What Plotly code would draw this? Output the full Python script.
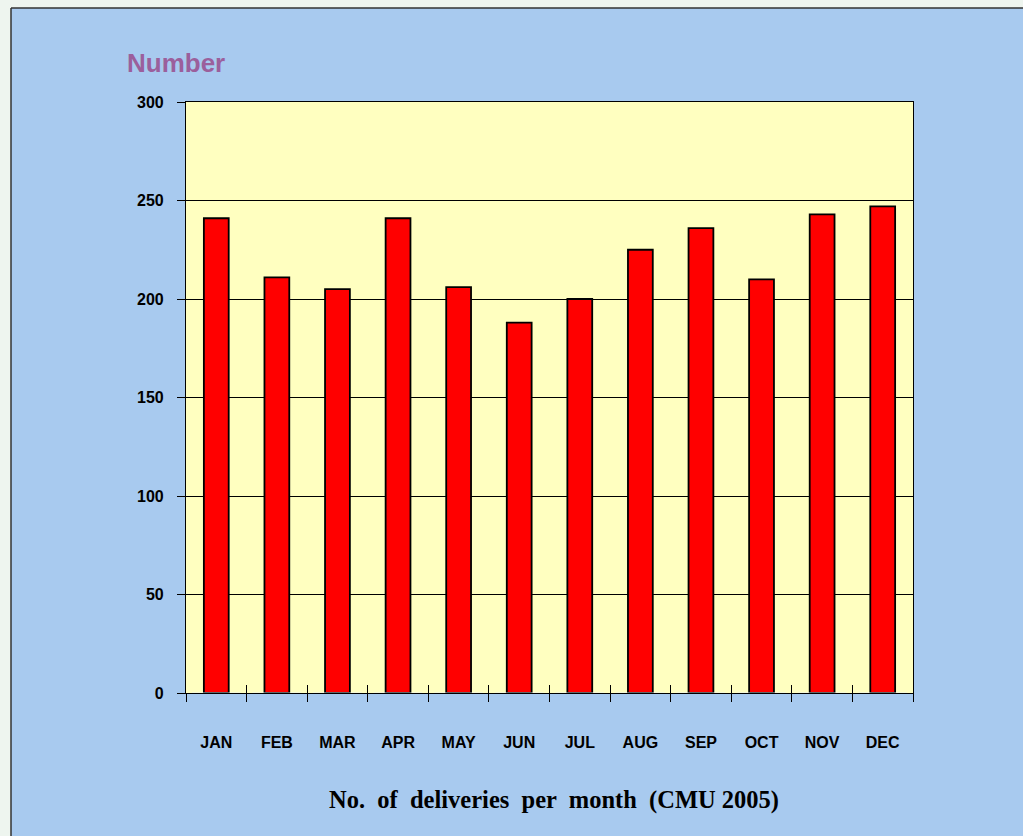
import plotly.graph_objects as go

months = ["JAN", "FEB", "MAR", "APR", "MAY", "JUN", "JUL", "AUG", "SEP", "OCT", "NOV", "DEC"]
deliveries = [241, 211, 205, 241, 206, 188, 200, 225, 236, 210, 243, 247]
y_ticks = [0, 50, 100, 150, 200, 250, 300]

W, H = 1023, 836
L, R, T, B = 186, 913, 102, 693

fig = go.Figure()
fig.add_trace(go.Bar(
    x=months, y=deliveries,
    marker=dict(color="#FF0000", line=dict(color="#000000", width=1.8)),
    width=0.41, xaxis="x", yaxis="y",
))
# invisible overlay trace for inward cross ticks
fig.add_trace(go.Bar(x=months, y=[0]*12, xaxis="x2", yaxis="y", showlegend=False,
                     marker=dict(color="rgba(0,0,0,0)"), hoverinfo="skip"))

def px_x(p):
    return (p - L) / (R - L)

def px_y(p):
    return (B - p) / (B - T)

shapes = [
    dict(type="rect", xref="paper", yref="paper", x0=px_x(-5), x1=px_x(11), y0=px_y(850), y1=px_y(-5),
         fillcolor="#EEF5EF", line=dict(width=0), layer="below"),
    dict(type="rect", xref="paper", yref="paper", x0=px_x(-5), x1=px_x(1030), y0=px_y(8), y1=px_y(-5),
         fillcolor="#EEF5EF", line=dict(width=0), layer="below"),
    dict(type="line", xref="paper", yref="paper", x0=px_x(11), x1=px_x(11), y0=px_y(850), y1=px_y(8),
         line=dict(color="#333333", width=1.5)),
    dict(type="line", xref="paper", yref="paper", x0=px_x(11), x1=px_x(1030), y0=px_y(8), y1=px_y(8),
         line=dict(color="#333333", width=1.5)),
]

fig.update_layout(
    width=W, height=H,
    margin=dict(l=L, r=W - R, t=T, b=H - B, pad=0),
    paper_bgcolor="#A8CAEF",
    plot_bgcolor="#FFFFC0",
    showlegend=False,
    shapes=shapes,
    xaxis=dict(
        type="category", showgrid=False, showline=True, linecolor="#000000", linewidth=1.2,
        mirror=True, ticks="outside", tickson="boundaries", ticklen=8, tickcolor="#000000",
        tickfont=dict(family="Arial, Liberation Sans", size=16, color="#000000", weight="bold"),
        ticklabelstandoff=35, range=[-0.5, 11.5],
    ),
    xaxis2=dict(
        type="category", overlaying="x", side="bottom", showgrid=False, showline=False,
        ticks="inside", tickson="boundaries", ticklen=8, tickcolor="#000000",
        showticklabels=False, range=[-0.5, 11.5], matches="x",
    ),
    yaxis=dict(
        range=[0, 300], tickvals=y_ticks, showgrid=True, gridcolor="#000000", gridwidth=1,
        showline=True, linecolor="#000000", linewidth=1.2, mirror=True,
        ticks="outside", ticklen=8, tickcolor="#000000", zeroline=False,
        tickfont=dict(family="Arial, Liberation Sans", size=16, color="#000000", weight="bold"),
        ticklabelstandoff=10,
    ),
    annotations=[
        dict(text="Number", xref="paper", yref="paper", x=px_x(125), y=px_y(63),
             xanchor="left", yanchor="middle", showarrow=False,
             font=dict(family="Arial, Liberation Sans", size=26,
                       color="#9B5F9C", weight="bold")),
        dict(text="No.  of  deliveries  per  month  (CMU 2005)", xref="paper", yref="paper",
             x=px_x(554), y=px_y(800), xanchor="center", yanchor="middle", showarrow=False,
             font=dict(family="Times New Roman, Liberation Serif", size=24.5, color="#000000", weight="bold")),
    ],
)

fig.write_html(
    "out.html",
    config={"displayModeBar": False},
    post_script="document.body.style.margin='0';document.body.style.background='#EEF5EF';",
)
